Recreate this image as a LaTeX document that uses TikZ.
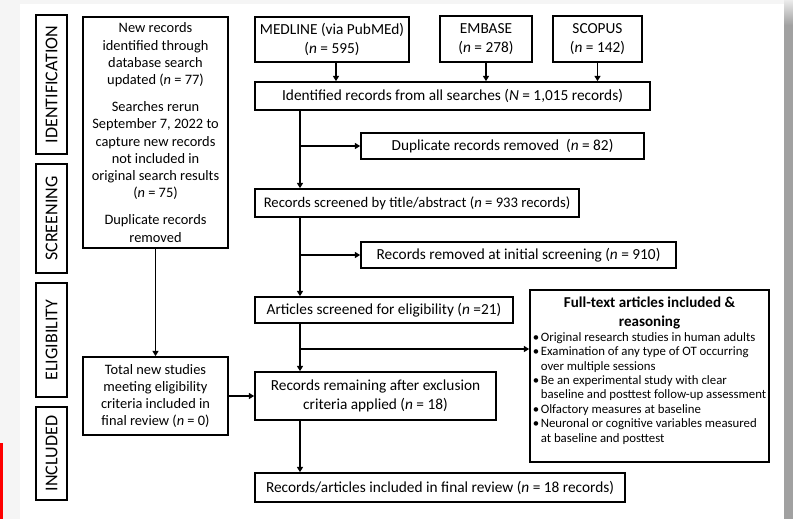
\documentclass[tikz,border=0pt]{standalone}
\usepackage{fontspec}
\setmainfont{Carlito}
\usetikzlibrary{arrows.meta}
% bullet line with a hanging indent for the criteria list
\newcommand\critem[1]{\par\hangindent=7pt\hangafter=1\noindent\hspace*{1pt}\makebox[6pt][l]{\textbullet}#1}
\begin{document}
\begin{tikzpicture}[x=0.75pt,y=-0.75pt,
  box/.style={draw, line width=1.2pt, align=center, inner sep=1pt,
    font=\fontsize{11.5}{14}\selectfont},
  sidebox/.style={box, font=\fontsize{10.8}{12.9}\selectfont},
  phase/.style={draw, line width=1.5pt, rotate=90, inner sep=0pt,
    font=\fontsize{13.5}{15}\selectfont, minimum height=23.25pt},
  arr/.style={line width=1.2pt, -{Triangle[length=4pt,width=4.5pt]}},
  ln/.style={line width=1.2pt}]
\useasboundingbox (0,0) rectangle (793,519);
% page and surroundings
\fill[black!4] (0,0) rectangle (793,519);
\fill[white] (20,4) rectangle (784,519);
\shade[top color=black!8, bottom color=black!37] (784,0) rectangle (793,25);
\fill[black!37] (784,25) rectangle (793,519);
\fill[red] (0,443) rectangle (2.5,519);

% phase labels
\node[phase, minimum width=104.25pt] (pid)  at (51.5,84.5)  {IDENTIFICATION};
\node[phase, minimum width=81.75pt]  (pscr) at (51.5,218.5) {SCREENING};
\node[phase, minimum width=85.5pt]   (peli) at (51.5,340)   {ELIGIBILITY};
\node[phase, minimum width=69.75pt]  (pinc) at (51.5,453.5) {INCLUDED};

% update search column
\node[sidebox, minimum width=108.75pt, minimum height=173.25pt] (newrec) at (155.5,132.5)
  {New records\\identified through\\database search\\updated (\textit{n} = 77)\\[7.5pt]
   Searches rerun\\September 7, 2022 to\\capture new records\\not included in\\original search results\\(\textit{n} = 75)\\[7.5pt]
   Duplicate records\\removed};
\node[sidebox, minimum width=108.75pt, minimum height=58.5pt] (total) at (155.5,396)
  {Total new studies\\meeting eligibility\\criteria included in\\final review (\textit{n} = 0)};

% databases
\node[box, minimum width=115.5pt, minimum height=33.75pt] (medline) at (332,39.5)
  {MEDLINE (via PubMEd)\\(\textit{n} = 595)};
\node[box, minimum width=69pt, minimum height=34.5pt] (embase) at (486,39)
  {EMBASE\\(\textit{n} = 278)};
\node[box, minimum width=66.75pt, minimum height=34.5pt] (scopus) at (597.5,39)
  {SCOPUS\\(\textit{n} = 142)};

% main flow
\node[box, minimum width=296.25pt, minimum height=21pt] (ident) at (452.5,96)
  {Identified records from all searches (\textit{N} = 1,015 records)};
\node[box, minimum width=212.25pt, minimum height=19.5pt] (dup) at (502.5,146)
  {Duplicate records removed\ \ (\textit{n} = 82)};
\node[box, minimum width=243pt, minimum height=21pt, font=\fontsize{11}{13}\selectfont] (scrn) at (417,203)
  {Records screened by title/abstract (\textit{n} = 933 records)};
\node[box, minimum width=236.25pt, minimum height=19.5pt] (rem) at (518.5,255)
  {Records removed at initial screening (\textit{n} = 910)};
\node[box, minimum width=193.5pt, minimum height=19.5pt] (art) at (384,310)
  {Articles screened for eligibility (\textit{n} =21)};
\node[box, minimum width=180.75pt, minimum height=36pt] (remain) at (375.5,396)
  {Records remaining after exclusion\\criteria applied (\textit{n} = 18)};
\node[box, minimum width=277.5pt, minimum height=21.75pt] (final) at (440,487.5)
  {Records/articles included in final review (\textit{n} = 18 records)};

% inclusion criteria
\node[draw, line width=1.2pt, inner sep=0pt, minimum width=179.25pt, minimum height=129pt] (full) at (649.5,376)
  {\parbox{177pt}{\centering\bfseries\fontsize{11.3}{14.25}\selectfont
    Full-text articles included \&\\reasoning\par
    \raggedright\normalfont\fontsize{9.6}{10.8}\selectfont
    \critem{Original research studies in human adults}
    \critem{Examination of any type of OT occurring\newline over multiple sessions}
    \critem{Be an experimental study with clear\newline baseline and posttest follow-up assessment}
    \critem{Olfactory measures at baseline}
    \critem{Neuronal or cognitive variables measured\newline at baseline and posttest}
    \par\vspace{8pt}}};

% connectors
\coordinate (sx) at (300,0);
\coordinate (br) at (300,349);
\draw[arr] (medline.south -| 336,0) -- (ident.north -| 336,0);
\draw[arr] (embase.south) -- (embase.south |- ident.north);
\draw[arr] (scopus.south) -- (scopus.south |- ident.north);
\draw[arr] (sx |- ident.south) -- (sx |- scrn.north);
\draw[arr] (sx |- dup.west) -- (dup.west);
\draw[arr] (sx |- scrn.south) -- (sx |- art.north);
\draw[arr] (sx |- rem.west) -- (rem.west);
\draw[arr] (sx |- art.south) -- (sx |- remain.north);
\draw[arr] (br) -- (br -| full.west);
\draw[arr] (sx |- remain.south) -- (sx |- final.north);
\draw[arr] (newrec.south) -- (total.north);
\draw[arr] (total.east) -- (remain.west);
\end{tikzpicture}
\end{document}
